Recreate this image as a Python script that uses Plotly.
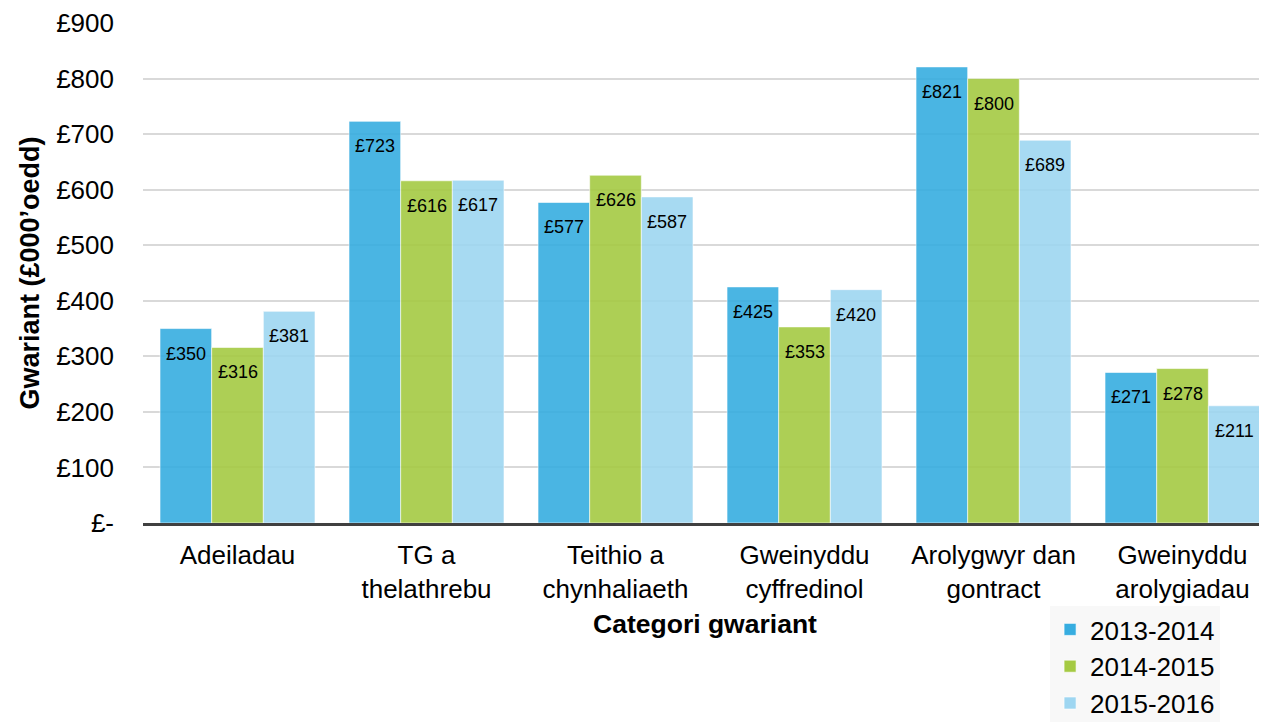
import plotly.graph_objects as go

categories = ["Adeiladau", "TG a<br>thelathrebu", "Teithio a<br>chynhaliaeth",
              "Gweinyddu<br>cyffredinol", "Arolygwyr dan<br>gontract", "Gweinyddu<br>arolygiadau"]
series_names = ["2013-2014", "2014-2015", "2015-2016"]
values_2013 = [350, 723, 577, 425, 821, 271]
values_2014 = [316, 616, 626, 353, 800, 278]
values_2015 = [381, 617, 587, 420, 689, 211]
tick_values = [0, 100, 200, 300, 400, 500, 600, 700, 800, 900]
tick_labels = ["£-", "£100", "£200", "£300", "£400", "£500", "£600", "£700", "£800", "£900"]

series_values = [values_2013, values_2014, values_2015]
colors = ["#37ADE0", "#A5CA43", "#9ED6F1"]

FONT = "Liberation Sans, Arial, sans-serif"
BARGAP = 0.18

fig = go.Figure()
for name, vals, col in zip(series_names, series_values, colors):
    fig.add_trace(go.Bar(
        name=name, x=categories, y=vals,
        marker=dict(color=col, opacity=0.9,
                    line=dict(color="rgba(255,255,255,0.6)", width=1)),
        hoverinfo="x+y+name",
    ))

# value labels just inside the top of each bar
n = len(series_values)
w = (1 - BARGAP) / n
annotations = []
for k, vals in enumerate(series_values):
    for i, v in enumerate(vals):
        annotations.append(dict(
            x=i + (k - (n - 1) / 2) * w, y=v, xref="x", yref="y",
            text=f"£{v}", showarrow=False, yanchor="top", xanchor="center",
            yshift=-13, font=dict(family=FONT, size=18, color="#000000"),
        ))

# the page body adds an 8px offset, so the figure is sized 8px smaller
fig.update_layout(
    width=1259, height=714,
    margin=dict(l=135, r=0, t=15, b=199, autoexpand=False),
    paper_bgcolor="white", plot_bgcolor="white",
    barmode="group", bargap=BARGAP, bargroupgap=0,
    font=dict(family=FONT, size=26, color="#000000"),
    annotations=annotations,
    legend=dict(
        x=0.807, y=-0.166, xanchor="left", yanchor="top",
        bgcolor="#F8F8F8", font=dict(family=FONT, size=26, color="#000000"),
        tracegroupgap=0, entrywidth=173,
    ),
    xaxis=dict(
        type="category", range=[-0.5, 5.447],
        showline=True, linecolor="#404040", linewidth=3,
        showgrid=False, ticks="", tickfont=dict(size=26),
        ticklabelstandoff=7,
        title=dict(text="<b>Categori gwariant</b>", font=dict(size=26.5), standoff=12),
    ),
    yaxis=dict(
        range=[0, 900], tickvals=tick_values, ticktext=tick_labels,
        showgrid=True, gridcolor="#D9D9D9", gridwidth=2,
        zeroline=False, showline=False, ticks="",
        tickfont=dict(size=26), ticklabelstandoff=28,
        title=dict(text="<b>Gwariant (£000’oedd)</b>", font=dict(size=27), standoff=8),
    ),
)

fig.write_html("out.html")
